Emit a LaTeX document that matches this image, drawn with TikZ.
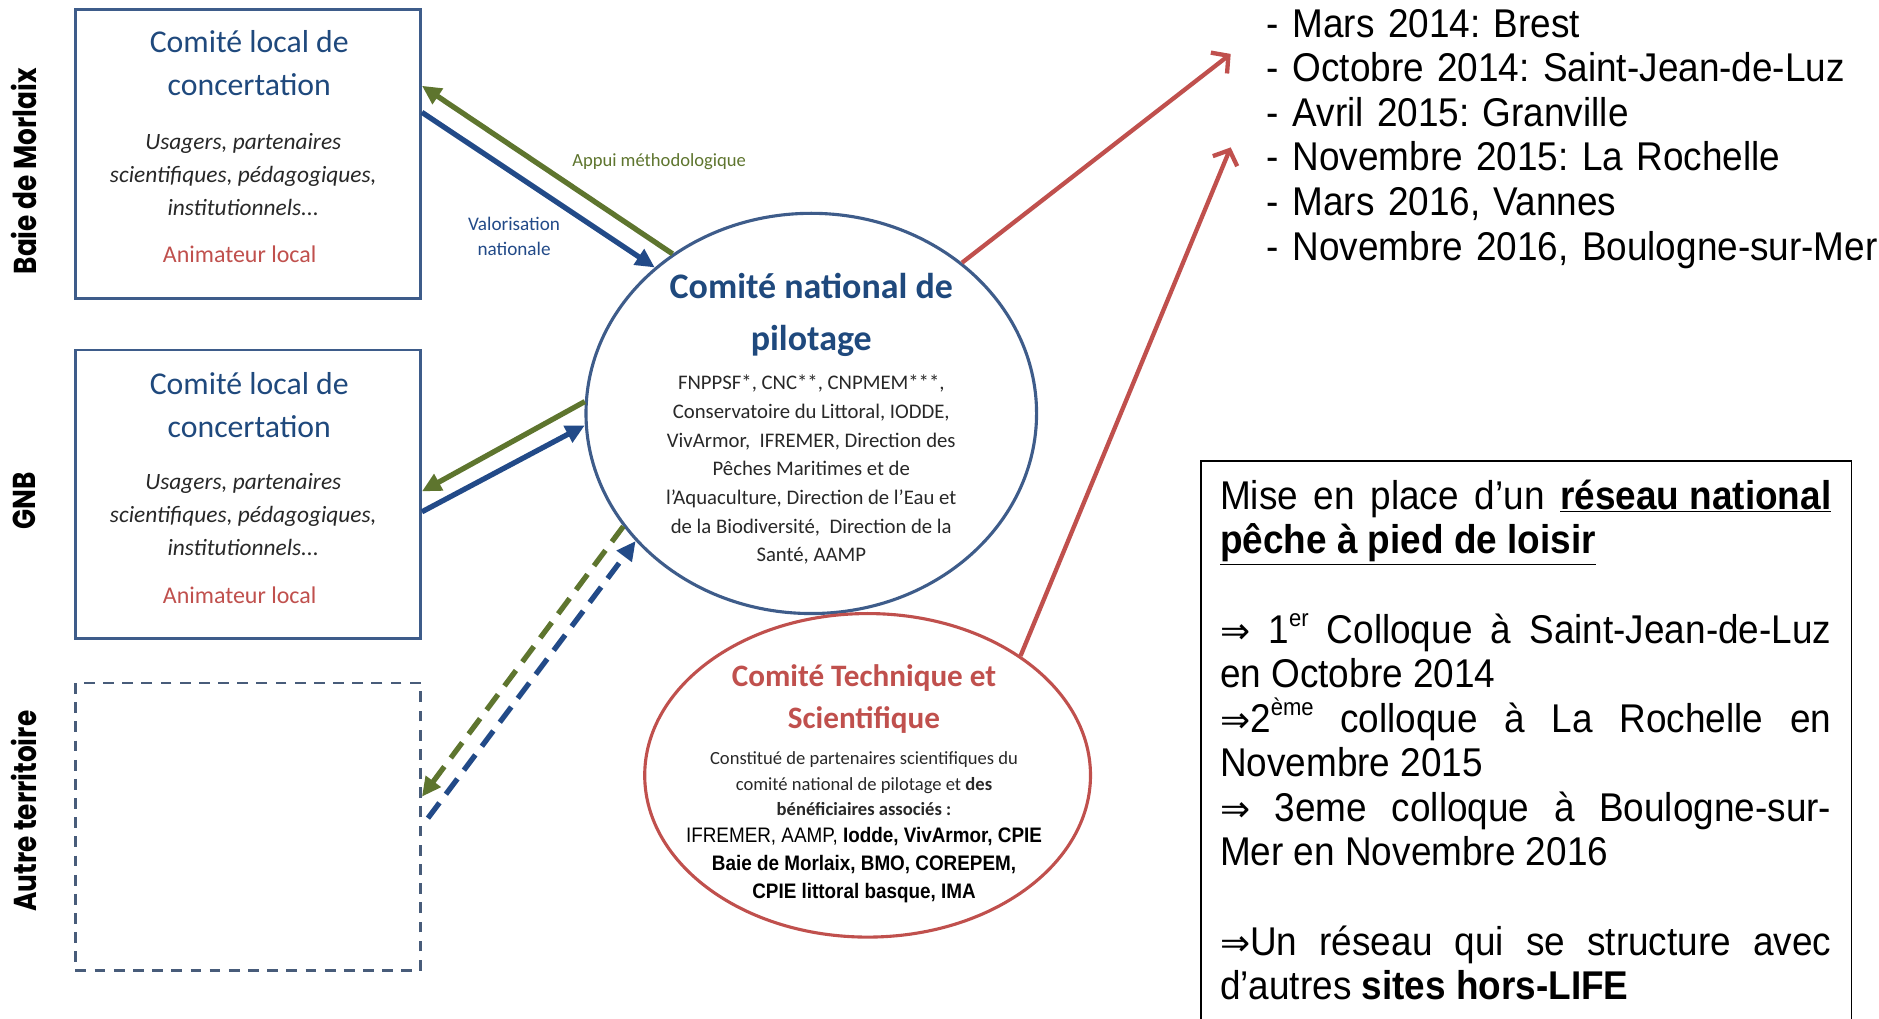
\documentclass[tikz,border=0pt]{standalone}
\usepackage{fontspec}
\setmainfont{Carlito}
\newfontfamily\arialf{Liberation Sans}[FakeStretch=0.92]
\newfontfamily\narrowf{Liberation Sans}[FakeStretch=0.9]
\newfontfamily\labf{Poppins}
\newfontfamily\symf{DejaVu Sans}
\usetikzlibrary{shapes.geometric,arrows.meta,calc}
\definecolor{boxblue}{RGB}{62,92,138}
\definecolor{titleblue}{RGB}{31,73,125}
\definecolor{arrowblue}{RGB}{34,74,136}
\definecolor{okgreen}{RGB}{94,117,46}
\definecolor{cred}{RGB}{192,80,77}
\definecolor{bodygray}{RGB}{40,40,40}
\definecolor{dashblue}{RGB}{72,92,122}
\newcommand{\imp}{{\symf\fontsize{30}{30}\selectfont ⇒}}
\newcommand{\supx}[1]{\raisebox{0.42em}{\fontsize{20}{20}\selectfont #1}}
\tikzset{
  lbox/.style={draw=boxblue, line width=2.2pt, minimum width=288pt, minimum height=241pt, inner sep=0pt},
  dbox/.style={draw=dashblue, line width=2.2pt, dash pattern=on 9pt off 7pt, minimum width=288pt, minimum height=240pt, inner sep=0pt},
  ltitle/.style={align=center, text=titleblue, font=\fontsize{26.5}{36}\selectfont, inner sep=0pt},
  litalic/.style={align=center, text=bodygray, font=\itshape\fontsize{19.5}{27.5}\selectfont, inner sep=0pt},
  lanim/.style={text=cred, font=\fontsize{20}{24}\selectfont, inner sep=0pt},
  vlabel/.style={rotate=90, font=\labf\bfseries\fontsize{22}{24}\selectfont, inner sep=0pt},
  garrow/.style={draw=okgreen, line width=4.4pt, -{Triangle[length=16pt,width=15pt]}},
  barrow/.style={draw=arrowblue, line width=4.4pt, -{Triangle[length=16pt,width=15pt]}},
  rarrow/.style={draw=cred, line width=3.6pt, -{Straight Barb[length=10pt,width=22pt]}},
  dashed arrow/.style={dash pattern=on 16pt off 9pt},
  listtext/.style={font=\frenchspacing\arialf\fontsize{33.5}{37.2}\selectfont, inner sep=0pt, text width=520pt, align=left, anchor=base west},
}
\begin{document}
\begin{tikzpicture}[x=1pt,y=-1pt]
\useasboundingbox (0,0) rectangle (1568,850);
\fill[white] (0,0) rectangle (1568,850);

% vertical labels
\node[vlabel] (lab1) at (20,143) {\scalebox{1}[1.2]{Baie de Morlaix}};
\node[vlabel] (lab2) at (20,418) {\scalebox{1}[1.2]{GNB}};
\node[vlabel] (lab3) at (20,677) {\scalebox{1}[1.2]{Autre territoire}};

% local boxes
\node[lbox] (b1) at (207,128.5) {};
\node[ltitle] (b1t) at (208,53) {Comité local de\\concertation};
\node[litalic] (b1i) at (203,145.5) {Usagers, partenaires\\scientifiques, pédagogiques,\\institutionnels...};
\node[lanim] (b1a) at (200,212) {Animateur local};

\node[lbox] (b2) at (207,412.5) {};
\node[ltitle] (b2t) at (208,338) {Comité local de\\concertation};
\node[litalic] (b2i) at (203,429.5) {Usagers, partenaires\\scientifiques, pédagogiques,\\institutionnels...};
\node[lanim] (b2a) at (200,497) {Animateur local};

\node[dbox] (b3) at (207,690) {};

% national committee
\node[ellipse, draw=boxblue, line width=2.6pt, minimum width=376pt, minimum height=334pt, inner sep=0pt] (nat) at (677,345) {};
\node[align=center, text=titleblue, font=\bfseries\fontsize{30}{43}\selectfont, inner sep=0pt] (natt) at (677,263) {Comité national de\\pilotage};
\node[align=center, text=bodygray, font=\fontsize{17.3}{23.9}\selectfont, inner sep=0pt] (natb) at (677,392) {FNPPSF*, CNC**, CNPMEM***,\\Conservatoire du Littoral, IODDE,\\VivArmor,~ IFREMER, Direction des\\Pêches Maritimes et de\\l’Aquaculture, Direction de l’Eau et\\de la Biodiversité,~ Direction de la\\Santé, AAMP};

% technical committee
\node[ellipse, draw=cred, line width=2.6pt, minimum width=372pt, minimum height=270pt, inner sep=0pt] (cts) at (724,647) {};
\node[align=center, text=cred, font=\bfseries\fontsize{26}{35}\selectfont, inner sep=0pt] (ctst) at (721,583) {Comité Technique et\\Scientifique};
\node[align=center, text=bodygray, font=\fontsize{15.5}{21}\selectfont, inner sep=0pt] (ctsb) at (721,654) {Constitué de partenaires scientifiques du\\comité national de pilotage et \textbf{des}\\\textbf{bénéficiaires associés :}};
\node[align=center, text=black, font=\narrowf\fontsize{17.5}{23.5}\selectfont, inner sep=0pt] (ctsn) at (721,722) {IFREMER, AAMP, \textbf{Iodde, VivArmor, CPIE}\\\textbf{Baie de Morlaix, BMO, COREPEM,}\\\textbf{CPIE littoral basque, IMA}};

% connectors box 1
\draw[garrow] (nat.131) -- ($(b1.north east)!0.266!(b1.south east)$);
\draw[barrow] ($(b1.north east)!0.357!(b1.south east)$) -- (nat.137);
\node[text=okgreen, font=\fontsize{15.5}{18}\selectfont, inner sep=0pt] (appui) at (550,135) {Appui méthodologique};
\node[align=center, text=arrowblue, font=\fontsize{16}{21}\selectfont, inner sep=0pt] (valo) at (429,197) {Valorisation\\nationale};

% connectors box 2
\draw[garrow] (nat.177) -- ($(b2.north east)!0.49!(b2.south east)$);
\draw[barrow] ($(b2.north east)!0.56!(b2.south east)$) -- (nat.183);

% connectors box 3
\draw[garrow, dashed arrow] (nat.211.7) -- ($(b3.north east)!0.396!(b3.south east)$);
\draw[barrow, dashed arrow] ($(b3.north east)!0.47!(b3.south east)+(5,0)$) -- (nat.216);

% red arrows to list
\coordinate (r1) at (1027,45);
\coordinate (r2) at (1027,123);
\draw[rarrow] (nat.45) -- (r1);
\draw[rarrow] (cts.38.6) -- (r2);

% event list
\node[listtext] (list) at (1057,31) {- Mars 2014: Brest\\- Octobre 2014: Saint-Jean-de-Luz\\- Avril 2015: Granville\\- Novembre 2015: La Rochelle\\- Mars 2016, Vannes\\- Novembre 2016, Boulogne-sur-Mer};

% text box
\draw[black, line width=1.5pt] (1002,852) -- (1002,385) -- (1545,385) -- (1545,852);
\node[font=\frenchspacing\arialf\fontsize{33.5}{37.2}\selectfont, inner sep=0pt, text width=510pt, align=justify, anchor=base west] (reseau) at (1018,425) {%
\parindent=0pt\parskip=0pt
Mise en place d’un \textbf{\underline{réseau national}}\linebreak
\textbf{\underline{pêche à pied de loisir}}\par
\vskip 37.2pt
\imp{} 1\supx{er} Colloque à Saint-Jean-de-Luz\linebreak
en Octobre 2014\par
\imp2\supx{ème} colloque à La Rochelle en\linebreak
Novembre 2015\par
\imp{} 3eme colloque à Boulogne-sur-\linebreak
Mer en Novembre 2016\par
\vskip 37.2pt
\imp Un réseau qui se structure avec\linebreak
d’autres \textbf{sites hors-LIFE}\par};
\end{tikzpicture}
\end{document}
